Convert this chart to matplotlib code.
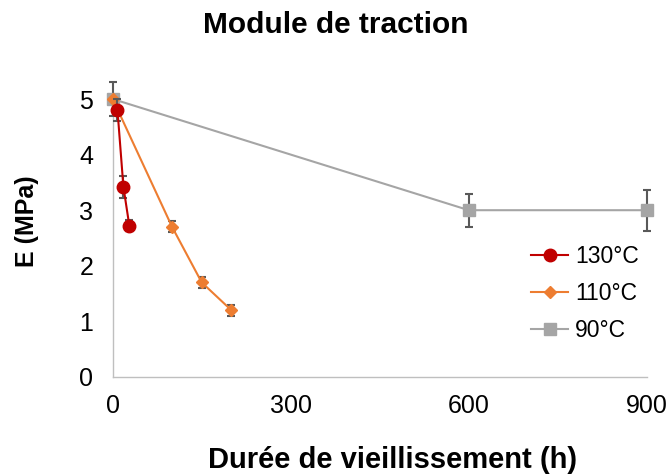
import matplotlib
matplotlib.use("Agg")
import matplotlib.pyplot as plt

plt.rcParams['font.family'] = ['Liberation Sans', 'DejaVu Sans']

t130 = [8, 18, 28]
e130 = [4.8, 3.42, 2.72]
err130 = [0.2, 0.2, 0.1]

t110 = [0, 100, 150, 200]
e110 = [5.0, 2.7, 1.7, 1.2]
err110 = [0.0, 0.1, 0.1, 0.1]

t90 = [0, 600, 900]
e90 = [5.0, 3.0, 3.0]
err90 = [0.3, 0.3, 0.37]

fig = plt.figure(figsize=(6.71, 4.76), dpi=100)
ax = fig.add_axes([0.168, 0.208, 0.796, 0.584])

errkw = dict(ecolor='#595959', elinewidth=1.5, capsize=3, capthick=1.5)

ax.errorbar(t90, e90, yerr=err90, color='#a5a5a5', marker='s', markersize=9,
            linewidth=1.5, label='90°C', clip_on=False, zorder=3, **errkw)
ax.errorbar(t110, e110, yerr=err110, color='#ed7d31', marker='D', markersize=6.5,
            linewidth=1.5, label='110°C', clip_on=False, zorder=4, **errkw)
ax.errorbar(t130, e130, yerr=err130, color='#c00000', marker='o', markersize=9,
            linewidth=1.5, label='130°C', clip_on=False, zorder=5, **errkw)

ax.set_xlim(0, 900)
ax.set_ylim(0, 5)
ax.set_xticks([0, 300, 600, 900])
ax.set_yticks([0, 1, 2, 3, 4, 5])
for s in ['top', 'right']:
    ax.spines[s].set_visible(False)
for s in ['left', 'bottom']:
    ax.spines[s].set_color('#bfbfbf')
    ax.spines[s].set_linewidth(1)
ax.tick_params(length=0, labelsize=18, colors='black')
ax.tick_params(axis='x', pad=12)
ax.tick_params(axis='y', pad=14)

fig.text(0.5, 1 - 25 / 476, 'Module de traction', fontsize=21.5, fontweight='bold',
         ha='center', va='center')
fig.text(0.585, 1 - 460 / 476, 'Durée de vieillissement (h)', fontsize=21,
         fontweight='bold', ha='center', va='center')
fig.text(27 / 671, 1 - 221 / 476, 'E (MPa)', fontsize=18, fontweight='bold',
         ha='center', va='center', rotation=90)

h, l = ax.get_legend_handles_labels()
order = [2, 1, 0]
h2 = [h[i][0] for i in order]
leg = ax.legend(h2, [l[i] for i in order], loc='center left', bbox_to_anchor=(0.745, 0.3),
                frameon=False, fontsize=16.5, handlelength=1.6, handletextpad=0.3,
                labelspacing=0.6)

fig.savefig('out.png', dpi=100)
